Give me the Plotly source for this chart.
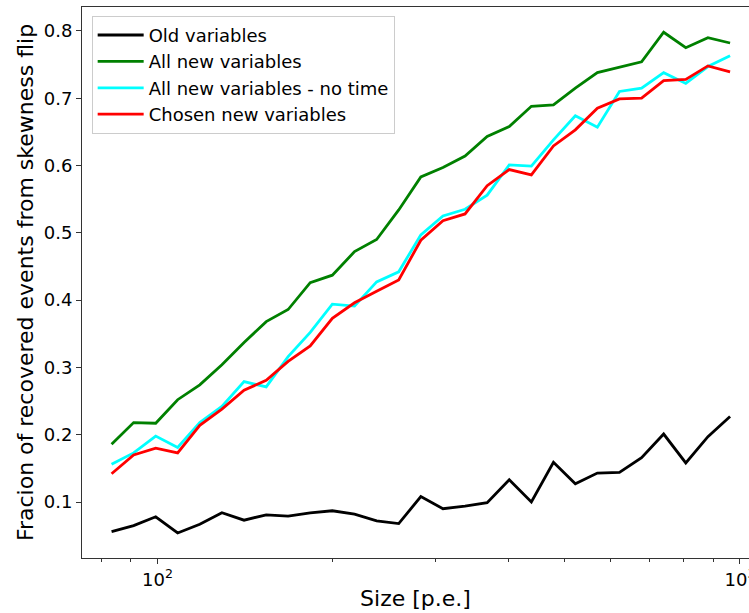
import plotly.graph_objects as go

size_pe = [83.4, 91.0, 99.3, 108.3, 118.2, 129.0, 140.8, 153.7, 167.6, 182.9,
           199.6, 217.9, 237.8, 259.5, 283.2, 309.1, 337.3, 368.1, 401.7, 438.4,
           478.4, 521.6, 569.1, 621.0, 677.8, 739.6, 807.2, 881.0, 961.6]

old_vars = [0.056, 0.065, 0.078, 0.054, 0.067, 0.084, 0.073, 0.081, 0.079, 0.084,
            0.087, 0.082, 0.072, 0.068, 0.108, 0.090, 0.094, 0.099, 0.133, 0.100,
            0.159, 0.127, 0.143, 0.144, 0.166, 0.201, 0.158, 0.197, 0.227]

all_new = [0.186, 0.218, 0.217, 0.252, 0.274, 0.304, 0.337, 0.368, 0.386, 0.426,
           0.437, 0.472, 0.490, 0.534, 0.583, 0.597, 0.614, 0.643, 0.658, 0.688,
           0.690, 0.715, 0.738, 0.746, 0.754, 0.798, 0.775, 0.790, 0.782]

all_new_no_time = [0.156, 0.173, 0.198, 0.181, 0.218, 0.242, 0.279, 0.271, 0.316, 0.352,
                   0.394, 0.391, 0.427, 0.442, 0.497, 0.525, 0.535, 0.556, 0.601, 0.599,
                   0.638, 0.674, 0.657, 0.710, 0.715, 0.738, 0.722, 0.747, 0.763]

chosen_new = [0.142, 0.170, 0.180, 0.173, 0.214, 0.238, 0.266, 0.281, 0.309, 0.332,
              0.373, 0.396, 0.413, 0.430, 0.489, 0.518, 0.528, 0.570, 0.594, 0.586,
              0.629, 0.653, 0.685, 0.699, 0.700, 0.726, 0.728, 0.748, 0.739]

series = [
    ("Old variables", old_vars, "#000000"),
    ("All new variables", all_new, "#008000"),
    ("All new variables - no time", all_new_no_time, "#00ffff"),
    ("Chosen new variables", chosen_new, "#ff0000"),
]

x_major = [100, 1000]
x_major_text = ["10<sup>2</sup>", "10<sup>3</sup>"]
x_minor = [80, 90, 200, 300, 400, 500, 600, 700, 800, 900]
y_ticks = [0.1, 0.2, 0.3, 0.4, 0.5, 0.6, 0.7, 0.8]

FONT = "DejaVu Sans"

fig = go.Figure()
for name, vals, color in series:
    fig.add_trace(go.Scatter(x=size_pe, y=vals, mode="lines", name=name,
                             line=dict(color=color, width=2.8)))

fig.update_layout(
    width=749, height=613,
    margin=dict(l=82, r=0, t=7, b=55),
    paper_bgcolor="white", plot_bgcolor="white",
    font=dict(family=FONT, size=18, color="#000000"),
    showlegend=True,
    legend=dict(x=0.0145, y=0.984, xanchor="left", yanchor="top",
                bgcolor="rgba(255,255,255,0.8)", bordercolor="#cccccc", borderwidth=1,
                itemwidth=46,
                font=dict(family=FONT, size=18)),
    xaxis=dict(
        type="log", range=[1.8704, 3.0155],
        tickmode="array", tickvals=x_major, ticktext=x_major_text,
        ticks="outside", ticklen=5, tickwidth=1, tickcolor="#333333",
        showline=True, linecolor="#333333", linewidth=1, mirror=True,
        showgrid=False, zeroline=False, ticklabeloverflow="allow",
        tickfont=dict(size=18),
        minor=dict(tickmode="array", tickvals=x_minor, ticks="outside",
                   ticklen=3, tickwidth=1, tickcolor="#333333", showgrid=False),
        title=dict(text="Size [p.e.]", font=dict(size=22), standoff=2),
        automargin=False,
    ),
    yaxis=dict(
        range=[0.0168, 0.8355],
        tickmode="array", tickvals=y_ticks, ticktext=["%.1f" % v for v in y_ticks],
        ticks="outside", ticklen=5, tickwidth=1, tickcolor="#333333",
        showline=True, linecolor="#333333", linewidth=1, mirror=False,
        showgrid=False, zeroline=False,
        tickfont=dict(size=18),
        title=dict(text="Fracion of recovered events from skewness flip",
                   font=dict(size=22), standoff=4),
        automargin=False,
    ),
)

fig.write_html("out.html")
